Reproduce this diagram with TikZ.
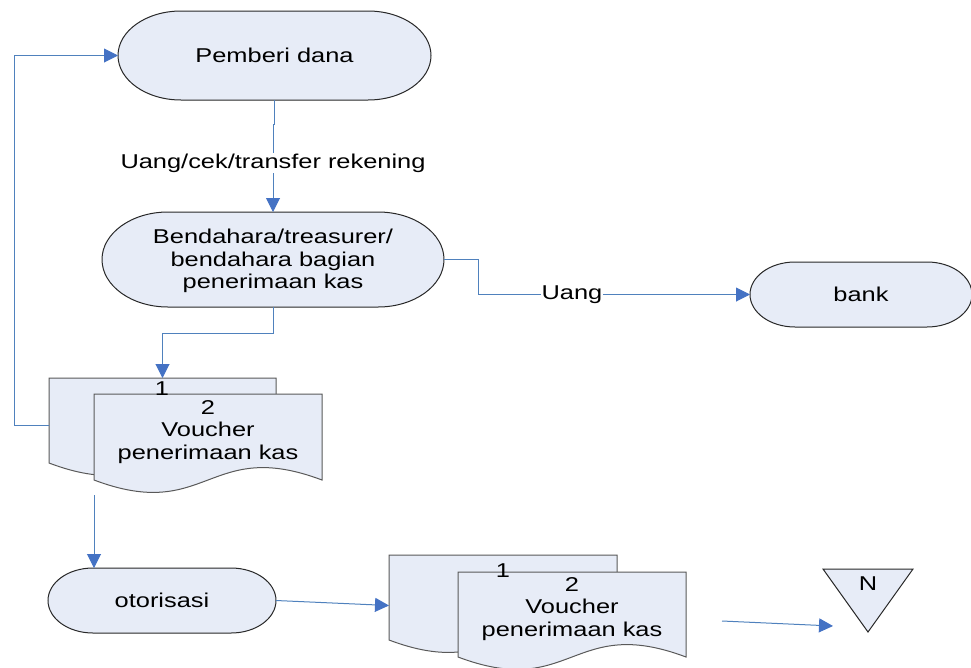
\documentclass[tikz,border=0pt]{standalone}
\usepackage{fontspec}
\setmainfont{Liberation Sans}[FakeStretch=1.27]
\usetikzlibrary{arrows.meta,calc,backgrounds}
\definecolor{shfill}{RGB}{231,236,247}
\definecolor{conn}{RGB}{79,129,189}
\definecolor{tipc}{RGB}{68,114,196}
\definecolor{edgec}{RGB}{40,40,40}
\tikzset{
 box/.style={draw=none,fill=none,inner sep=0pt,outer sep=0pt,rectangle},
 shapeline/.style={draw=edgec,fill=shfill,line width=1pt},
 docline/.style={draw=black!65,fill=shfill,line width=1pt},
 txt/.style={font=\fontsize{20}{22.5}\selectfont,align=center,inner sep=1pt},
 conline/.style={draw=conn,line width=1pt},
 arr/.style={conline,-{Triangle[width=14pt,length=14pt,fill=tipc,color=tipc]}},
 lbl/.style={txt,fill=white,inner sep=1pt},
}
\newcommand\termshape[3]{%
 \begin{pgfonlayer}{background}
 \path[shapeline] ($(#1.north west)+(#2,0)$) -- ($(#1.north east)+(-#2,0)$)
   arc[start angle=90,end angle=-90,x radius=#2,y radius=#3]
   -- ($(#1.south west)+(#2,0)$)
   arc[start angle=270,end angle=90,x radius=#2,y radius=#3] -- cycle;
 \end{pgfonlayer}}
\newcommand\docshape[1]{%
 \begin{pgfonlayer}{background}
 \path[docline] (#1.north west) -- (#1.north east) -- (#1.south east)
   .. controls ($(#1.south)+(0,43)$) and ($(#1.south)+(0,-43)$) .. (#1.south west) -- cycle;
 \end{pgfonlayer}}
\begin{document}
\begin{tikzpicture}[x=1pt,y=1pt]
\useasboundingbox (0,0) rectangle (971,-667);
% terminators
\node[box,minimum width=313pt,minimum height=89pt] (pd) at (274.5,-55.5) {};
\termshape{pd}{63}{44.5}
\node[txt] (pdt) at (pd) {Pemberi dana};
\node[box,minimum width=342pt,minimum height=95pt] (bd) at (273,-259.5) {};
\termshape{bd}{66}{47.5}
\node[txt] (bdt) at ([yshift=-1.5pt]bd.center) {Bendahara/treasurer/\\bendahara bagian\\penerimaan kas};
\node[box,minimum width=222pt,minimum height=65pt] (bank) at (861,-294.5) {};
\termshape{bank}{45}{32.5}
\node[txt] (bankt) at (bank) {bank};
\node[box,minimum width=228pt,minimum height=65pt] (oto) at (162,-600.5) {};
\termshape{oto}{45}{32.5}
\node[txt] (otot) at (oto) {otorisasi};
% documents
\node[box,minimum width=227pt,minimum height=85pt] (d1) at (162.5,-420.5) {};
\docshape{d1}
\node[box,minimum width=228pt,minimum height=86pt] (d2) at (208,-437) {};
\docshape{d2}
\node[txt] (d1t) at (162,-389) {1};
\node[txt] (d2t) at (208,-432) {2\\Voucher\\penerimaan kas};
\node[box,minimum width=228pt,minimum height=85pt] (d3) at (503,-597.5) {};
\docshape{d3}
\node[box,minimum width=228pt,minimum height=85pt] (d4) at (572,-614.5) {};
\docshape{d4}
\node[txt] (d3t) at (503,-571) {1};
\node[txt] (d4t) at (572,-609) {2\\Voucher\\penerimaan kas};
% off-page triangle
\path[shapeline] (823,-569) -- (913,-569) -- (868,-632) -- cycle;
\node[txt] (nt) at (868,-584) {N};
% connectors
\draw[arr] (pd.south) -- ++(0,-24) -| (bd.north);
\node[lbl] (l1) at (273,-163) {Uang/cek/transfer rekening};
\draw[arr] (bd.east) -- ++(34,0) |- (bank.west);
\node[lbl] (l2) at (572,-295) {Uang};
\draw[arr] (bd.south) -- ++(0,-26) -| (d1.north);
\draw[arr] ([yshift=-5pt]d1.west) -- ++(-35,0) |- (pd.west);
\coordinate (c5) at (94,-495);
\draw[arr] (c5) -- (oto.north -| c5);
\draw[arr] (oto.east) -- ([yshift=-8pt]d3.west);
\coordinate (c7a) at (722,-621);
\coordinate (c7b) at (833,-626);
\draw[arr] (c7a) -- (c7b);
\end{tikzpicture}
\end{document}
